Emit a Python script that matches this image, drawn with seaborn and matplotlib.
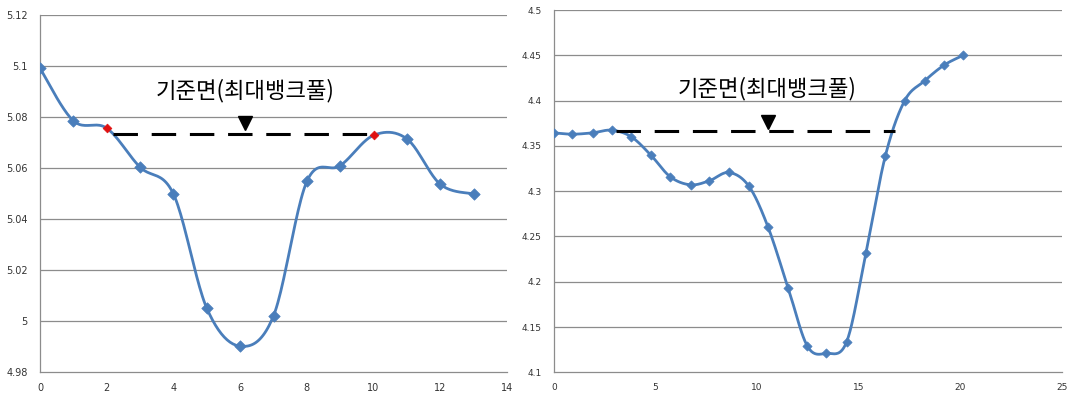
import numpy as np
import pandas as pd
import matplotlib
matplotlib.use("Agg")
import matplotlib.pyplot as plt
import seaborn as sns

# ---------------- data ----------------
left_x = [0, 1, 2, 3, 4, 5, 6, 7, 8, 9, 10, 11, 12, 13]
left_y = [5.099, 5.0784, 5.0755, 5.0602, 5.0497, 5.0049, 4.990, 5.0019,
          5.0546, 5.0608, 5.0727, 5.0713, 5.0535, 5.0497]
left_red_idx = [2, 10]
left_bank_x = [2.2, 9.9]
left_bank_y = 5.0731
left_tri = (6.15, 5.0776)
left_label = (6.15, 5.0902)
left_yticks = [4.98, 5.0, 5.02, 5.04, 5.06, 5.08, 5.1, 5.12]
left_ylabels = ["4.98", "5", "5.02", "5.04", "5.06", "5.08", "5.1", "5.12"]
left_xticks = [0, 2, 4, 6, 8, 10, 12, 14]

right_x = [0, 0.91, 1.9, 2.85, 3.81, 4.77, 5.73, 6.72, 7.65, 8.61, 9.59,
           10.53, 11.52, 12.47, 13.4, 14.4, 15.35, 16.31, 17.26, 18.24,
           19.2, 20.14]
right_y = [4.3644, 4.3629, 4.3644, 4.3673, 4.3599, 4.3397, 4.3157, 4.3070,
           4.3115, 4.3206, 4.3055, 4.2606, 4.1934, 4.1289, 4.1209, 4.1336,
           4.2318, 4.3392, 4.4000, 4.4218, 4.4392, 4.4500]
right_bank_x = [3.05, 16.78]
right_bank_y = 4.3666
right_tri = (10.52, 4.3765)
right_label = (10.5, 4.413)
right_yticks = [4.1, 4.15, 4.2, 4.25, 4.3, 4.35, 4.4, 4.45, 4.5]
right_ylabels = ["4.1", "4.15", "4.2", "4.25", "4.3", "4.35", "4.4", "4.45", "4.5"]
right_xticks = [0, 5, 10, 15, 20, 25]

label_text = "기준면(최대뱅크풀)"

# ---------------- style ----------------
sns.set_style("white")
plt.rcParams["font.family"] = ["Noto Sans CJK KR", "DejaVu Sans"]

BLUE = "#4a7ebb"
GRID = "#8c8c8c"
TXT = "#333333"


def smooth(xs, ys, n=24):
    """Excel-style smoothed line: cubic Bezier through the data points."""
    P = np.column_stack([xs, ys]).astype(float)
    ext = np.vstack([P[0], P, P[-1]])
    out = []
    t = np.linspace(0, 1, n)[:, None]
    for i in range(len(P) - 1):
        p0, p1, p2, p3 = ext[i], ext[i + 1], ext[i + 2], ext[i + 3]
        c1 = p1 + (p2 - p0) / 6.0
        c2 = p2 - (p3 - p1) / 6.0
        seg = ((1 - t) ** 3) * p1 + 3 * ((1 - t) ** 2) * t * c1 + 3 * (1 - t) * t ** 2 * c2 + t ** 3 * p2
        out.append(seg if i == 0 else seg[1:])
    S = np.vstack(out)
    return S[:, 0], S[:, 1]


def style_axes(ax, xticks, yticks, ylabels, xlim, ylim, fs):
    ax.set_xlim(*xlim)
    ax.set_ylim(*ylim)
    ax.set_xticks(xticks)
    ax.set_xticklabels([str(v) for v in xticks])
    ax.set_yticks(yticks)
    ax.set_yticklabels(ylabels)
    ax.grid(False)
    for v in yticks[1:]:
        ax.axhline(v, color=GRID, lw=0.9, zorder=0)
    for s in ["top", "right"]:
        ax.spines[s].set_visible(False)
    for s in ["left", "bottom"]:
        ax.spines[s].set_color(GRID)
        ax.spines[s].set_linewidth(0.9)
    ax.tick_params(axis="y", direction="out", length=3, width=0.8, color=GRID,
                   pad=6, labelsize=fs, labelcolor=TXT)
    ax.tick_params(axis="x", direction="out", length=3, width=0.8, color=GRID,
                   pad=5, labelsize=fs, labelcolor=TXT)
    for lab in ax.get_xticklabels() + ax.get_yticklabels():
        lab.set_family("DejaVu Sans")
    ax.set_xlabel("")
    ax.set_ylabel("")
    ax.set_facecolor("white")


fig = plt.figure(figsize=(10.68, 3.96), dpi=100)
ax1 = fig.add_axes([40 / 1068, 1 - 371.7 / 396, 467 / 1068, 357 / 396])
ax2 = fig.add_axes([554 / 1068, 1 - 372.3 / 396, 508 / 1068, 362.3 / 396])

DASH = (0, (8, 4.5))

# ---- left chart ----
sx, sy = smooth(left_x, left_y)
sns.lineplot(x=sx, y=sy, sort=False, estimator=None, ax=ax1, color=BLUE, lw=2.0, zorder=3)
dfl = pd.DataFrame({"x": left_x, "y": left_y})
blue_pts = dfl.drop(index=left_red_idx)
red_pts = dfl.loc[left_red_idx]
sns.scatterplot(data=blue_pts, x="x", y="y", ax=ax1, marker="D", s=34,
                color=BLUE, edgecolor=BLUE, linewidth=0.5, zorder=4)
sns.scatterplot(data=red_pts, x="x", y="y", ax=ax1, marker="D", s=20,
                color="#e01010", edgecolor="#e01010", linewidth=0.5, zorder=5)
ax1.plot(left_bank_x, [left_bank_y] * 2, color="black", lw=2.2, ls=DASH, zorder=5)
ax1.plot([left_tri[0]], [left_tri[1]], marker="v", ms=10, color="black", zorder=6)
ax1.text(left_label[0], left_label[1], label_text, ha="center", va="center",
         fontsize=16, fontweight="light", color="black",
         family=["Noto Sans CJK KR", "DejaVu Sans"])
style_axes(ax1, left_xticks, left_yticks, left_ylabels, (0, 14), (4.98, 5.12), 7)

# ---- right chart ----
sx, sy = smooth(right_x, right_y)
sns.lineplot(x=sx, y=sy, sort=False, estimator=None, ax=ax2, color=BLUE, lw=2.0, zorder=3)
dfr = pd.DataFrame({"x": right_x, "y": right_y})
sns.scatterplot(data=dfr, x="x", y="y", ax=ax2, marker="D", s=22,
                color=BLUE, edgecolor=BLUE, linewidth=0.5, zorder=4)
ax2.plot(right_bank_x, [right_bank_y] * 2, color="black", lw=2.2, ls=DASH, zorder=5)
ax2.plot([right_tri[0]], [right_tri[1]], marker="v", ms=10, color="black", zorder=6)
ax2.text(right_label[0], right_label[1], label_text, ha="center", va="center",
         fontsize=16, fontweight="light", color="black",
         family=["Noto Sans CJK KR", "DejaVu Sans"])
style_axes(ax2, right_xticks, right_yticks, right_ylabels, (0, 25), (4.1, 4.5), 6.5)

fig.savefig("out.png", dpi=100, facecolor="white")
